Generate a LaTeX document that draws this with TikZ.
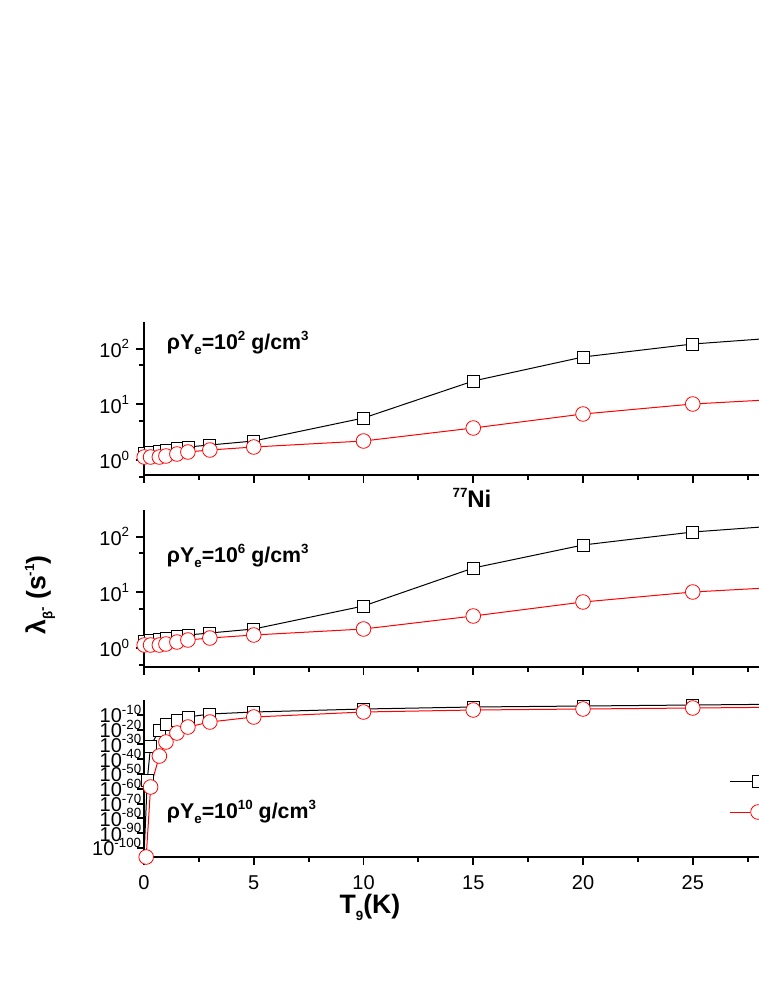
\documentclass[tikz,border=0pt]{standalone}
\usepackage{fontspec}
\setmainfont{Liberation Sans}
\tikzset{every picture/.style={line width=0.75pt}}
\tikzset{
  axisline/.style={line width=1.4pt},
  ticklab/.style={font=\fontsize{15}{18}\selectfont},
  boldlab/.style={font=\bfseries\fontsize{16}{19}\selectfont},
  sqmark/.style={draw=black,fill=white,line width=0.6pt,minimum size=9pt,inner sep=0pt,rectangle},
  cimark/.style={draw=red,fill=white,line width=0.6pt,minimum size=11pt,inner sep=0pt,circle},
}
\newcommand{\px}[1]{144+21.95*#1}
\newcommand{\sups}[1]{\raisebox{0.8ex}{\fontsize{10}{10}\selectfont #1}}
\newcommand{\subs}[1]{\raisebox{-0.5ex}{\fontsize{10}{10}\selectfont #1}}
\begin{document}
\begin{tikzpicture}[x=0.75pt,y=0.75pt,yscale=-1,xscale=1]
\useasboundingbox (0,0) rectangle (758,981);

%Axes of the three panels
\foreach \top/\bot in {322/475, 510/667, 700/857}{
  \draw[axisline] (144,\top) -- (144,\bot) -- (770,\bot);
  \foreach \t in {0,5,...,25} \draw[axisline] ({\px{\t}},\bot) -- ({\px{\t}},\bot+8);
  \foreach \t in {2.5,7.5,...,27.5} \draw[axisline] ({\px{\t}},\bot) -- ({\px{\t}},\bot+5);
}
%Log ticks, panels 1 and 2
\foreach \z/\p in {460/a, 648/b}{
  \foreach \d in {0,1,2} {
    \draw[axisline] (144,\z-55.7*\d) -- (136,\z-55.7*\d);
    \node[ticklab,anchor=east] (lab\p\d) at (134,\z-55.7*\d) {10\sups{\d}};
  }
  \foreach \d in {-0.301,0.699,1.699} \draw[axisline] (144,\z-55.7*\d) -- (139,\z-55.7*\d);
}
%Crowded ticks, panel 3
\foreach \k in {1,...,10}{
  \draw[axisline] (144,700+14.8*\k) -- (137,700+14.8*\k);
  \node[ticklab,anchor=south east,inner sep=1pt] (labc\k) at (143,710+14.8*\k) {10\sups{-\k0}};
}

%Panel 1 data
\draw[black] plot coordinates {({\px{0.01}},453) ({\px{0.3}},452) ({\px{0.7}},451) ({\px{1}},450) ({\px{1.5}},448) ({\px{2}},447) ({\px{3}},445) ({\px{5}},441) ({\px{10}},418) ({\px{15}},381) ({\px{20}},357) ({\px{25}},344) ({\px{30}},336)};
\draw[red] plot coordinates {({\px{0.01}},457) ({\px{0.3}},457) ({\px{0.7}},457) ({\px{1}},456) ({\px{1.5}},454) ({\px{2}},452) ({\px{3}},450) ({\px{5}},447) ({\px{10}},441) ({\px{15}},428) ({\px{20}},414) ({\px{25}},404) ({\px{30}},398)};
\foreach \t/\y in {0.01/453,0.3/452,0.7/451,1/450,1.5/448,2/447,3/445,5/441,10/418,15/381,20/357,25/344}
  \node[sqmark] (sa\t) at ({\px{\t}},\y) {};
\foreach \t/\y in {0.01/457,0.3/457,0.7/457,1/456,1.5/454,2/452,3/450,5/447,10/441,15/428,20/414,25/404}
  \node[cimark] (ca\t) at ({\px{\t}},\y) {};

%Panel 2 data
\draw[black] plot coordinates {({\px{0.01}},641) ({\px{0.3}},640) ({\px{0.7}},639) ({\px{1}},638) ({\px{1.5}},636) ({\px{2}},635) ({\px{3}},633) ({\px{5}},629) ({\px{10}},606) ({\px{15}},568) ({\px{20}},545) ({\px{25}},532) ({\px{30}},524)};
\draw[red] plot coordinates {({\px{0.01}},645) ({\px{0.3}},645) ({\px{0.7}},645) ({\px{1}},644) ({\px{1.5}},642) ({\px{2}},640) ({\px{3}},638) ({\px{5}},635) ({\px{10}},629) ({\px{15}},616) ({\px{20}},602) ({\px{25}},592) ({\px{30}},586)};
\foreach \t/\y in {0.01/641,0.3/640,0.7/639,1/638,1.5/636,2/635,3/633,5/629,10/606,15/568,20/545,25/532}
  \node[sqmark] (sb\t) at ({\px{\t}},\y) {};
\foreach \t/\y in {0.01/645,0.3/645,0.7/645,1/644,1.5/642,2/640,3/638,5/635,10/629,15/616,20/602,25/592}
  \node[cimark] (cb\t) at ({\px{\t}},\y) {};

%Panel 3 data
\draw[black] plot coordinates {({\px{0}},857) ({\px{0.15}},780) ({\px{0.3}},746) ({\px{0.7}},730) ({\px{1}},724) ({\px{1.5}},720) ({\px{2}},717) ({\px{3}},714) ({\px{5}},712) ({\px{10}},709) ({\px{15}},707) ({\px{20}},706) ({\px{25}},705) ({\px{30}},704)};
\draw[red] plot coordinates {({\px{0.1}},857) ({\px{0.3}},787) ({\px{0.7}},756) ({\px{1}},742) ({\px{1.5}},733) ({\px{2}},727) ({\px{3}},722) ({\px{5}},717) ({\px{10}},712) ({\px{15}},710) ({\px{20}},709) ({\px{25}},708) ({\px{30}},707)};
\foreach \t/\y in {0.15/780,0.3/746,0.7/730,1/724,1.5/720,2/717,3/714,5/712,10/709,15/707,20/706,25/705}
  \node[sqmark] (sc\t) at ({\px{\t}},\y) {};
\foreach \t/\y in {0.1/857,0.3/787,0.7/756,1/742,1.5/733,2/727,3/722,5/717,10/712,15/710,20/709,25/708}
  \node[cimark] (cc\t) at ({\px{\t}},\y) {};

%Legend (cut at the right edge)
\node[sqmark] (legsq) at (758,781) {};
\node[cimark] (legci) at (758,812) {};
\draw[black] (730,781) -- (legsq);
\draw[red] (730,812) -- (legci);

%X tick labels
\foreach \t in {0,5,...,25}
  \node[ticklab] (xl\t) at ({\px{\t}},883) {\t};

% Text Node
\node[boldlab,anchor=west] (rhoa) at (162,343) {ρY\subs{e}=10\sups{2} g/cm\sups{3}};
\node[boldlab,anchor=west] (rhob) at (162,556) {ρY\subs{e}=10\sups{6} g/cm\sups{3}};
\node[boldlab,anchor=west] (rhoc) at (162,812) {ρY\subs{e}=10\sups{10} g/cm\sups{3}};
\node[font=\bfseries\fontsize{18}{21}\selectfont] (nucl) at (472,498) {\sups{77}Ni};
\node[font=\bfseries\fontsize{20}{24}\selectfont] (xtitle) at (370,907) {T\subs{9}(K)};
\node[font=\bfseries\fontsize{20}{24}\selectfont,rotate=90] (ytitle) at (40,595) {λ\subs{β\sups{-}} (s\sups{-1})};

\end{tikzpicture}
\end{document}
